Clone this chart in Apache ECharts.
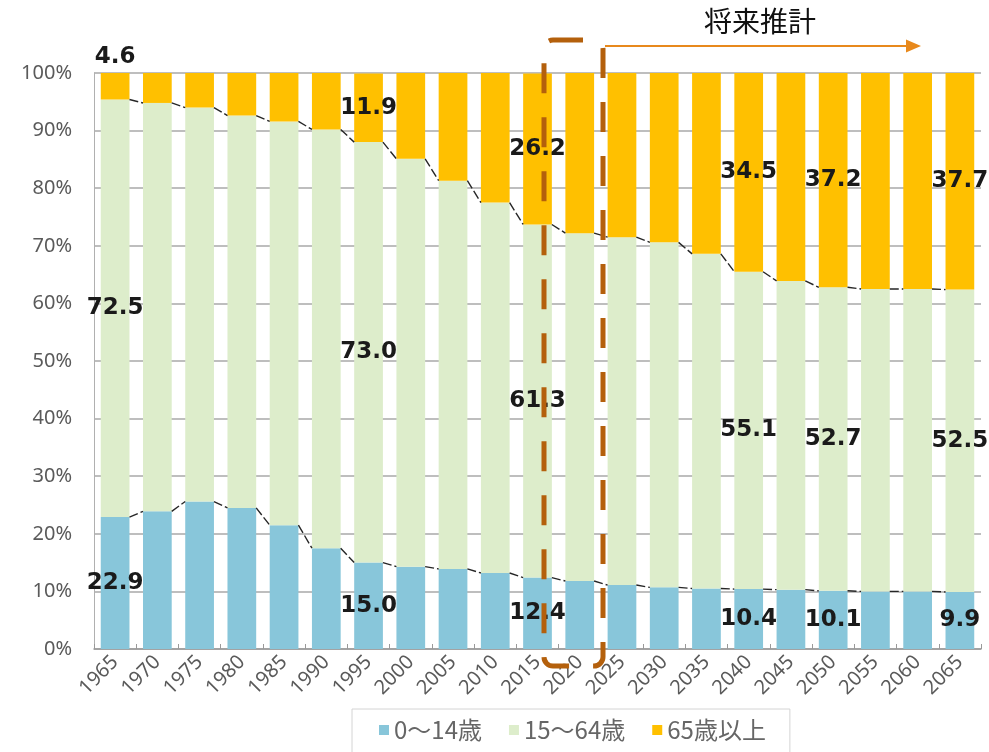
<!DOCTYPE html>
<html>
<head>
<meta charset="utf-8">
<script src="https://cdn.jsdelivr.net/npm/echarts@6/dist/echarts.min.js"></script>
<style>
html,body{margin:0;padding:0;background:#fff;}
#chart{width:989px;height:752px;}
</style>
</head>
<body>
<div id="chart"></div>
<script>
// ---- data ----
var years = ['1965','1970','1975','1980','1985','1990','1995','2000','2005','2010','2015','2020','2025','2030','2035','2040','2045','2050','2055','2060','2065'];
var young   = [22.9, 23.9, 25.6, 24.5, 21.5, 17.5, 15.0, 14.3, 13.9, 13.2, 12.4, 11.8, 11.1, 10.7, 10.5, 10.4, 10.3, 10.1, 10.0, 10.0, 9.9];
var working = [72.5, 70.9, 68.4, 68.1, 70.1, 72.7, 73.0, 70.8, 67.4, 64.3, 61.3, 60.4, 60.4, 59.9, 58.1, 55.1, 53.6, 52.7, 52.5, 52.5, 52.5];
var old     = [4.6, 5.2, 6.0, 7.4, 8.4, 9.8, 11.9, 14.9, 18.7, 22.5, 26.2, 27.8, 28.5, 29.4, 31.4, 34.5, 36.1, 37.2, 37.5, 37.5, 37.7];
var seriesNames = ['0～14歳', '15～64歳', '65歳以上'];
var labeledIdx = [0, 6, 10, 15, 17, 20];
var yTicks = [0, 10, 20, 30, 40, 50, 60, 70, 80, 90, 100];

// ---- styles ----
var colors = ['#88C6DA', '#DDEDCB', '#FFC000'];
var barRatio = 0.68;
var labelFont = {fontFamily: 'DejaVu Sans', fontWeight: 'bold', fontSize: 23, color: '#1a1a1a'};

function withLabels(arr, special) {
  return arr.map(function (v, i) {
    if (labeledIdx.indexOf(i) >= 0) {
      var item = {value: v, label: Object.assign({show: true, position: 'inside', formatter: v.toFixed(1)}, labelFont)};
      if (special && special[i]) Object.assign(item.label, special[i]);
      return item;
    }
    return v;
  });
}

// boundaries for series lines (connecting stacked tops)
var youngTop = young.slice();
var workTop = young.map(function (v, i) { return v + working[i]; });
function linkData(tops) {
  var out = [];
  for (var i = 0; i < tops.length - 1; i++) out.push([i, tops[i], tops[i + 1]]);
  return out;
}
function renderLink(params, api) {
  var i = api.value(0);
  var a = api.coord([i, api.value(1)]);
  var b = api.coord([i + 1, api.value(2)]);
  var band = api.size([1, 0])[0];
  var half = band * barRatio / 2;
  return {
    type: 'line',
    shape: {x1: a[0] + half, y1: a[1], x2: b[0] - half, y2: b[1]},
    style: {stroke: '#262626', lineWidth: 1.4, lineDash: [9, 3]}
  };
}

var chart = echarts.init(document.getElementById('chart'), null, {renderer: 'canvas'});
var option = {
  animation: false,
  backgroundColor: '#ffffff',
  color: colors,
  grid: {left: 94, right: 8, top: 73, bottom: 103},
  legend: {
    data: seriesNames,
    left: 352, top: 709,
    borderColor: '#d4d4d4', borderWidth: 1,
    padding: [9, 24, 20, 27],
    itemWidth: 10, itemHeight: 10, itemGap: 27,
    icon: 'rect',
    textStyle: {fontFamily: 'Noto Sans CJK JP', fontSize: 24, color: '#666'}
  },
  xAxis: {
    type: 'category',
    data: years,
    axisLine: {lineStyle: {color: '#9a9a9a', width: 1.5}},
    axisTick: {show: true, inside: true, length: 5, alignWithLabel: false, interval: 0, lineStyle: {color: '#9a9a9a'}},
    axisLabel: {interval: 0, rotate: 45, margin: 10, fontFamily: 'Noto Sans', fontSize: 20, color: '#5a5a5a'}
  },
  yAxis: {
    type: 'value',
    min: yTicks[0], max: yTicks[yTicks.length - 1], interval: yTicks[1] - yTicks[0],
    axisLine: {show: true, lineStyle: {color: '#b0b0b0'}},
    axisTick: {show: false},
    splitLine: {lineStyle: {color: '#a8a8a8', width: 1.5}},
    axisLabel: {formatter: '{value}%', margin: 22, fontFamily: 'Noto Sans', fontSize: 20, color: '#5a5a5a'}
  },
  series: [
    {name: seriesNames[0], type: 'bar', stack: 'age', barCategoryGap: ((1 - barRatio) * 100) + '%',
     data: withLabels(young)},
    {name: seriesNames[1], type: 'bar', stack: 'age', data: withLabels(working)},
    {name: seriesNames[2], type: 'bar', stack: 'age',
     data: withLabels(old, {0: {position: 'top', distance: 4}})},
    {name: 'link1', type: 'custom', renderItem: renderLink, data: linkData(youngTop), z: 5, silent: true},
    {name: 'link2', type: 'custom', renderItem: renderLink, data: linkData(workTop), z: 5, silent: true}
  ],
  graphic: [
    {type: 'rect', z: 100,
     shape: {x: 544, y: 40, width: 59, height: 626, r: 9},
     style: {fill: 'none', stroke: '#B4600C', lineWidth: 5, lineDash: [30, 24]}},
    {type: 'line', z: 100,
     shape: {x1: 605, y1: 46, x2: 910, y2: 46},
     style: {stroke: '#E8891C', lineWidth: 2}},
    {type: 'polygon', z: 100,
     shape: {points: [[906, 39.5], [921, 46], [906, 52.5]]},
     style: {fill: '#E8891C'}},
    {type: 'text', z: 100, left: 704, top: 7,
     style: {text: '将来推計', fontFamily: 'Noto Sans CJK JP', fontSize: 28, fill: '#111'}}
  ]
};
chart.setOption(option);
</script>
</body>
</html>
